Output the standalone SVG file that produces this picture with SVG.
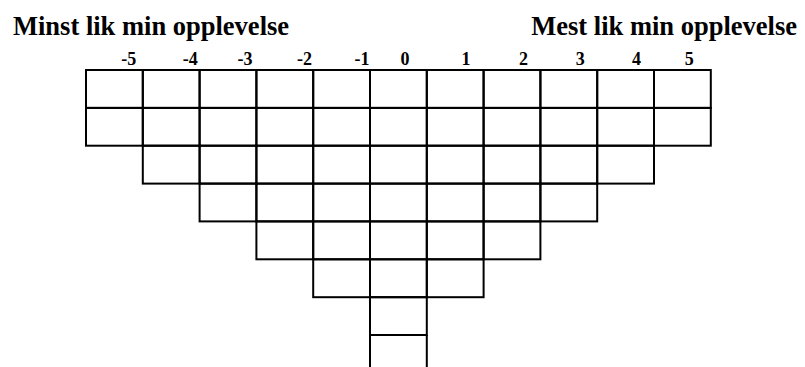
<svg xmlns="http://www.w3.org/2000/svg" width="805" height="367" viewBox="0 0 805 367">
<style>
.t{font-family:"Liberation Serif","Times New Roman",serif;font-weight:bold;fill:#000}
.h{font-size:26.5px}
.n{font-size:18px;text-anchor:middle}
.c{fill:none;stroke:#000;stroke-width:2}
</style>
<rect width="805" height="367" fill="#fff"/>
<g id="titles">
<text class="t h" x="13" y="35">Minst lik min opplevelse</text>
<text class="t h" x="797" y="35" text-anchor="end">Mest lik min opplevelse</text>
</g>
<g id="scale">
<text class="t n" x="128.7" y="65">-5</text>
<text class="t n" x="190.3" y="65">-4</text>
<text class="t n" x="245" y="65">-3</text>
<text class="t n" x="304.5" y="65">-2</text>
<text class="t n" x="362" y="65">-1</text>
<text class="t n" x="405" y="65">0</text>
<text class="t n" x="466" y="65">1</text>
<text class="t n" x="523.5" y="65">2</text>
<text class="t n" x="580.3" y="65">3</text>
<text class="t n" x="636.5" y="65">4</text>
<text class="t n" x="689.2" y="65">5</text>
</g>
<g id="row1" class="c">
<rect x="86" y="70" width="56.8" height="37.9"/><rect x="142.8" y="70" width="56.8" height="37.9"/><rect x="199.6" y="70" width="56.8" height="37.9"/><rect x="256.4" y="70" width="56.8" height="37.9"/><rect x="313.2" y="70" width="56.8" height="37.9"/><rect x="370" y="70" width="56.8" height="37.9"/><rect x="426.8" y="70" width="56.8" height="37.9"/><rect x="483.6" y="70" width="56.8" height="37.9"/><rect x="540.4" y="70" width="56.8" height="37.9"/><rect x="597.2" y="70" width="56.8" height="37.9"/><rect x="654" y="70" width="56.8" height="37.9"/>
</g>
<g id="row2" class="c">
<rect x="86" y="107.9" width="56.8" height="37.8"/><rect x="142.8" y="107.9" width="56.8" height="37.8"/><rect x="199.6" y="107.9" width="56.8" height="37.8"/><rect x="256.4" y="107.9" width="56.8" height="37.8"/><rect x="313.2" y="107.9" width="56.8" height="37.8"/><rect x="370" y="107.9" width="56.8" height="37.8"/><rect x="426.8" y="107.9" width="56.8" height="37.8"/><rect x="483.6" y="107.9" width="56.8" height="37.8"/><rect x="540.4" y="107.9" width="56.8" height="37.8"/><rect x="597.2" y="107.9" width="56.8" height="37.8"/><rect x="654" y="107.9" width="56.8" height="37.8"/>
</g>
<g id="row3" class="c">
<rect x="142.8" y="145.7" width="56.8" height="37.9"/><rect x="199.6" y="145.7" width="56.8" height="37.9"/><rect x="256.4" y="145.7" width="56.8" height="37.9"/><rect x="313.2" y="145.7" width="56.8" height="37.9"/><rect x="370" y="145.7" width="56.8" height="37.9"/><rect x="426.8" y="145.7" width="56.8" height="37.9"/><rect x="483.6" y="145.7" width="56.8" height="37.9"/><rect x="540.4" y="145.7" width="56.8" height="37.9"/><rect x="597.2" y="145.7" width="56.8" height="37.9"/>
</g>
<g id="row4" class="c">
<rect x="199.6" y="183.6" width="56.8" height="37.8"/><rect x="256.4" y="183.6" width="56.8" height="37.8"/><rect x="313.2" y="183.6" width="56.8" height="37.8"/><rect x="370" y="183.6" width="56.8" height="37.8"/><rect x="426.8" y="183.6" width="56.8" height="37.8"/><rect x="483.6" y="183.6" width="56.8" height="37.8"/><rect x="540.4" y="183.6" width="56.8" height="37.8"/>
</g>
<g id="row5" class="c">
<rect x="256.4" y="221.4" width="56.8" height="37.9"/><rect x="313.2" y="221.4" width="56.8" height="37.9"/><rect x="370" y="221.4" width="56.8" height="37.9"/><rect x="426.8" y="221.4" width="56.8" height="37.9"/><rect x="483.6" y="221.4" width="56.8" height="37.9"/>
</g>
<g id="row6" class="c">
<rect x="313.2" y="259.3" width="56.8" height="37.9"/><rect x="370" y="259.3" width="56.8" height="37.9"/><rect x="426.8" y="259.3" width="56.8" height="37.9"/>
</g>
<g id="row7" class="c">
<rect x="370" y="297.2" width="56.8" height="37.8"/>
</g>
<g id="row8" class="c">
<path d="M370 335V368M426.8 335V368"/>
</g>
</svg>
